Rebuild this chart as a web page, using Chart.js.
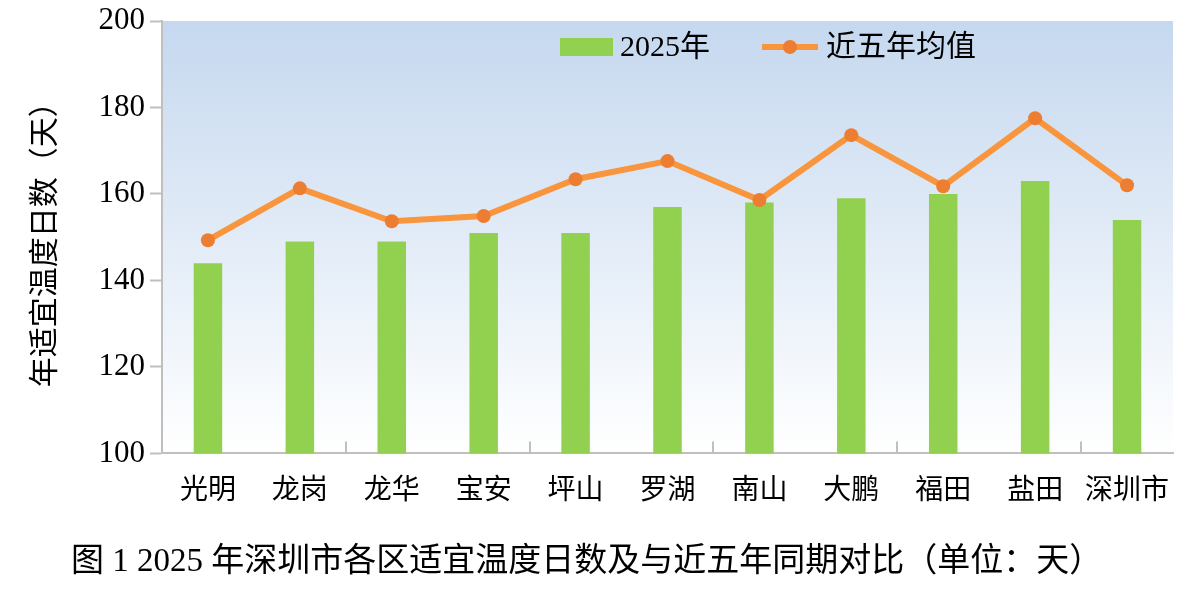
<!DOCTYPE html>
<html lang="zh">
<head>
<meta charset="UTF-8" />
<script src="https://cdn.jsdelivr.net/npm/chart.js@4.4.0/dist/chart.umd.min.js"></script>
<title>深圳市各区适宜温度日数</title>
<style>
  body { margin: 0; background: #fff; }
  #wrap { width: 1197px; height: 608px; }
</style>
</head>
<body>
<div id="wrap"><canvas id="chart"></canvas></div>
<script>
const districts = ['光明', '龙岗', '龙华', '宝安', '坪山', '罗湖', '南山', '大鹏', '福田', '盐田', '深圳市'];
const days2025 = [144, 149, 149, 151, 151, 157, 158, 159, 160, 163, 154];
const avg5yr = [149.3, 161.3, 153.7, 154.9, 163.4, 167.6, 158.6, 173.6, 161.8, 177.5, 162.0];
const yTicks = [100, 120, 140, 160, 180, 200];

const FONT = "'Liberation Serif', 'Noto Sans CJK SC', serif";
const GRAY = '#BFBFBF';

// 绘图区渐变背景
const plotBg = {
  id: 'plotBg',
  beforeDraw(chart) {
    const { ctx, chartArea: a } = chart;
    const g = ctx.createLinearGradient(0, a.top, 0, a.bottom);
    g.addColorStop(0, '#C5D8EF');
    g.addColorStop(1, '#FFFFFF');
    ctx.save();
    ctx.fillStyle = g;
    ctx.fillRect(a.left, a.top, a.right - a.left, a.bottom - a.top);
    ctx.restore();
  }
};

// x轴向上的短刻度（每两类一个）
const xInnerTicks = {
  id: 'xInnerTicks',
  afterDatasetsDraw(chart) {
    const { ctx, scales: { x } } = chart;
    const step = (x.right - x.left) / districts.length;
    ctx.save();
    ctx.strokeStyle = GRAY;
    ctx.lineWidth = 2;
    for (let i = 2; i < districts.length; i += 2) {
      const px = Math.round(x.left + step * i);
      ctx.beginPath();
      ctx.moveTo(px, x.top);
      ctx.lineTo(px, x.top - 12);
      ctx.stroke();
    }
    ctx.restore();
  }
};

// 图例画在绘图区内
const innerLegend = {
  id: 'innerLegend',
  afterDraw(chart) {
    const { ctx, chartArea: a } = chart;
    const ds = chart.data.datasets;
    const cy = a.top + 26;
    let x = a.left + 398;
    ctx.save();
    ctx.font = '30px ' + FONT;
    ctx.textBaseline = 'middle';
    ctx.fillStyle = ds[0].backgroundColor;
    ctx.fillRect(x, cy - 9, 53, 18);
    ctx.fillStyle = '#000';
    ctx.fillText(ds[0].label, x + 60, cy + 1);
    x = a.left + 600;
    ctx.strokeStyle = ds[1].borderColor;
    ctx.lineWidth = 6;
    ctx.beginPath();
    ctx.moveTo(x, cy);
    ctx.lineTo(x + 56, cy);
    ctx.stroke();
    ctx.fillStyle = ds[1].pointBackgroundColor;
    ctx.beginPath();
    ctx.arc(x + 28, cy, 7, 0, Math.PI * 2);
    ctx.fill();
    ctx.fillStyle = '#000';
    ctx.fillText(ds[1].label, x + 64, cy + 1);
    ctx.restore();
  }
};

new Chart(document.getElementById('chart'), {
  type: 'bar',
  data: {
    labels: districts,
    datasets: [
      {
        type: 'bar',
        label: '2025年',
        data: days2025,
        backgroundColor: '#92D050',
        categoryPercentage: 1,
        barPercentage: 0.31,
        order: 2
      },
      {
        type: 'line',
        label: '近五年均值',
        data: avg5yr,
        borderColor: '#F8953D',
        borderWidth: 6,
        tension: 0,
        pointRadius: 7,
        pointHoverRadius: 7,
        pointBorderWidth: 0,
        pointBackgroundColor: '#ED7D31',
        order: 1
      }
    ]
  },
  options: {
    responsive: true,
    maintainAspectRatio: false,
    animation: false,
    layout: { padding: { left: 0, right: 24, top: 21, bottom: 0 } },
    plugins: {
      legend: { display: false },
      tooltip: { enabled: false },
      title: {
        display: true,
        position: 'bottom',
        text: '图 1 2025 年深圳市各区适宜温度日数及与近五年同期对比（单位：天）',
        color: '#000',
        font: { family: FONT, size: 33, weight: 'normal' },
        padding: { top: 4, bottom: 26 }
      }
    },
    scales: {
      x: {
        grid: { display: false, drawTicks: false },
        border: { color: GRAY, width: 2 },
        ticks: { color: '#000', padding: 21, font: { family: FONT, size: 28 } },
        afterFit(s) { s.height = 85; }
      },
      y: {
        min: 100,
        max: 200,
        afterBuildTicks(s) { s.ticks = yTicks.map(v => ({ value: v })); },
        grid: { drawOnChartArea: false, drawTicks: true, tickLength: 12, tickColor: GRAY, tickWidth: 2 },
        border: { color: GRAY, width: 2 },
        ticks: { color: '#000', padding: 5, font: { family: FONT, size: 31 } },
        title: {
          display: true,
          text: '年适宜温度日数（天）',
          color: '#000',
          font: { family: FONT, size: 30 },
          padding: { top: 28, bottom: 0 }
        },
        afterFit(s) {
          s.width = 162;
          s.paddingTop = 0;
          s.paddingBottom = 0;
        }
      }
    }
  },
  plugins: [plotBg, xInnerTicks, innerLegend]
});
</script>
</body>
</html>
